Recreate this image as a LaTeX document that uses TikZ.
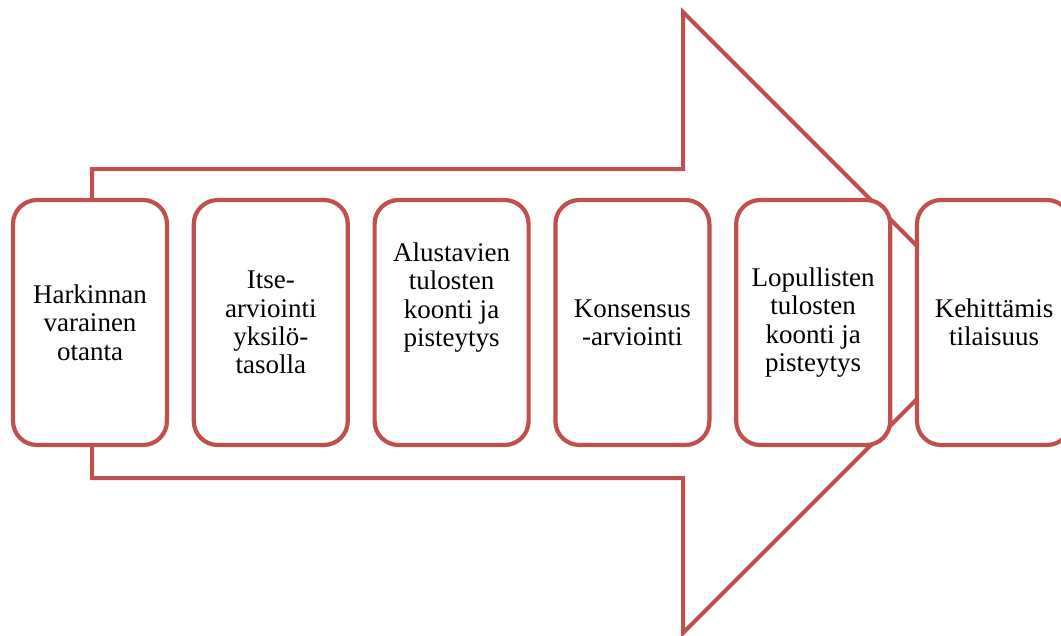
\documentclass[tikz,border=0pt]{standalone}
\usepackage{fontspec}
\setmainfont{Liberation Serif}
\definecolor{accent}{HTML}{C0504D}
\tikzset{
  flowarrow/.style={draw=accent, line width=4pt, fill=white, line join=miter},
  stage/.style={draw=accent, line width=4.2pt, fill=white, rectangle,
    rounded corners=24pt, minimum width=154pt, minimum height=245pt,
    inner sep=0pt},
  stagetext/.style={align=center, text=black, inner sep=0pt,
    font=\fontsize{27pt}{28.3pt}\selectfont}
}
\begin{document}
\begin{tikzpicture}[x=1pt, y=-1pt]
  \useasboundingbox (0,0) rectangle (1061,635);
  \clip (0,0) rectangle (1061,635);

  % large block arrow behind the stages
  \coordinate (s1) at (92,169);
  \coordinate (s2) at (683,169);
  \coordinate (h1) at (683,12);
  \coordinate (tip) at (993.5,322.5);
  \coordinate (h2) at (683,633);
  \coordinate (s3) at (683,478);
  \coordinate (s4) at (92,478);
  \draw[flowarrow] (s1) -- (s2) -- (h1) -- (tip) -- (h2) -- (s3) -- (s4) -- cycle;

  % stage boxes
  \node[stage] (b1) at (90,322.5) {};
  \node[stage] (b2) at (270.8,322.5) {};
  \node[stage] (b3) at (451.6,322.5) {};
  \node[stage] (b4) at (632.4,322.5) {};
  \node[stage] (b5) at (813.2,322.5) {};
  \node[stage] (b6) at (994,322.5) {};

  % stage labels
  \node[stagetext] (t1) at (b1.center) {Harkinnan\\varainen\\otanta};
  \node[stagetext] (t2) at (b2.center) {Itse-\\arviointi\\yksilö-\\tasolla};
  \node[stagetext] (t3) at ([yshift=25pt]b3.center) {Alustavien\\tulosten\\koonti ja\\pisteytys};
  \node[stagetext] (t4) at (b4.center) {Konsensus\\-arviointi};
  \node[stagetext] (t5) at (b5.center) {Lopullisten\\tulosten\\koonti ja\\pisteytys};
  \node[stagetext] (t6) at (b6.center) {Kehittämis\\tilaisuus};
\end{tikzpicture}
\end{document}
